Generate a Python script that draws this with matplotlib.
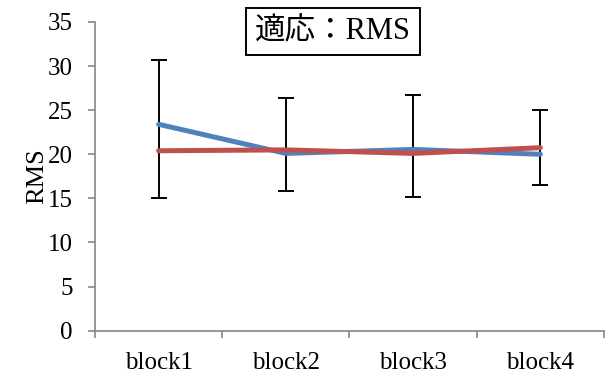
import numpy as np
import matplotlib
matplotlib.use("Agg")
import matplotlib.pyplot as plt

# -------------------------
# Data
# -------------------------
blocks = ["block1", "block2", "block3", "block4"]
blue_rms = [23.4, 20.1, 20.55, 20.0]
red_rms = [20.4, 20.5, 20.1, 20.75]
err_center = [20.4, 20.5, 20.1, 20.75]
err_top = [30.65, 26.35, 26.7, 25.05]
err_bottom = [15.0, 15.85, 15.2, 16.5]
yticks = [0, 5, 10, 15, 20, 25, 30, 35]

serif = ["Liberation Serif", "Noto Sans CJK JP"]
plt.rcParams["font.family"] = serif

# -------------------------
# Plot
# -------------------------
fig = plt.figure(figsize=(6.11, 3.76), dpi=100)
ax = fig.add_axes([0.1555, 0.1205, 0.833, 0.821])

x = np.arange(len(blocks))

ax.plot(x, blue_rms, color="#4F81BD", linewidth=3.6, solid_capstyle="round", zorder=3)
ax.plot(x, red_rms, color="#C0504D", linewidth=3.6, solid_capstyle="round", zorder=4)

center = np.array(err_center)
yerr = [center - np.array(err_bottom), np.array(err_top) - center]
ax.errorbar(x, center, yerr=yerr, fmt="none", ecolor="black",
            elinewidth=1.4, capsize=6, capthick=1.4, zorder=2)

ax.set_xlim(-0.5, len(blocks) - 0.5)
ax.set_ylim(0, 35)
ax.set_yticks(yticks)
ax.set_xticks(x)
ax.set_xticklabels(blocks)
ax.set_xticks(np.arange(-0.5, len(blocks)), minor=True)
ax.tick_params(axis="x", which="major", length=0, pad=15, labelsize=18)
ax.tick_params(axis="x", which="minor", length=5, color="#868686", width=1.2)
ax.tick_params(axis="y", length=5, color="#868686", width=1.2, labelsize=18, pad=11)

for side in ["top", "right"]:
    ax.spines[side].set_visible(False)
for side in ["left", "bottom"]:
    ax.spines[side].set_color("#868686")
    ax.spines[side].set_linewidth(1.2)

ax.set_ylabel("RMS", fontsize=19, labelpad=0)

fig.text(0.545, 0.916, "適応：RMS", fontsize=22, ha="center", va="center",
         family=serif,
         bbox=dict(boxstyle="square,pad=0.3", facecolor="white",
                   edgecolor="black", linewidth=1.4))

fig.savefig("out.png", dpi=100)
